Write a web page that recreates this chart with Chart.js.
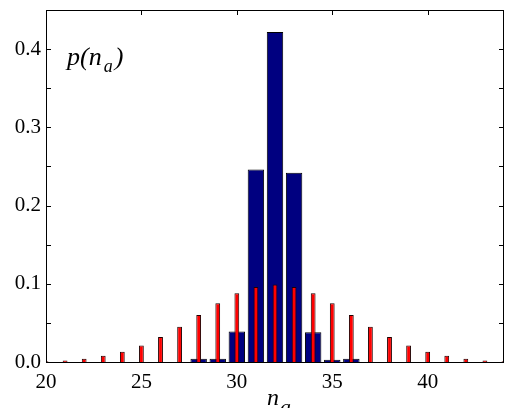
<!DOCTYPE html>
<html>
<head>
<meta charset="utf-8">
<script src="https://cdn.jsdelivr.net/npm/chart.js@4"></script>
<style>
  html, body { margin: 0; padding: 0; background: #fff; }
  #wrap { width: 505px; height: 408px; }
</style>
</head>
<body>
<div id="wrap"><canvas id="chart" width="505" height="408"></canvas></div>
<script>
// occupation numbers n_a
const redN = [20, 21, 22, 23, 24, 25, 26, 27, 28, 29, 30, 31, 32, 33, 34, 35, 36, 37, 38, 39, 40, 41, 42, 43, 44];
const redP = [0.001, 0.002, 0.004, 0.008, 0.013, 0.021, 0.032, 0.045, 0.060, 0.075, 0.088, 0.096, 0.099, 0.096, 0.088, 0.075, 0.060, 0.045, 0.032, 0.021, 0.013, 0.008, 0.004, 0.002, 0.001];

const blueN = [28, 29, 30, 31, 32, 33, 34, 35, 36];
const blueP = [0.004, 0.004, 0.039, 0.246, 0.422, 0.242, 0.038, 0.003, 0.004];

const xTicks = [20, 25, 30, 35, 40];
const yTicks = [0, 0.05, 0.1, 0.15, 0.2, 0.25, 0.3, 0.35, 0.4];

const serif = '"Liberation Serif", "DejaVu Serif", serif';

function toPoints(xs, ys) {
    return xs.map((x, i) => ({ x: x, y: ys[i] }));
}

// frame, inward ticks and the italic labels
const framePlugin = {
    id: 'frame',
    afterDraw(chart) {
        const c = chart.ctx;
        const a = chart.chartArea;
        const xs = chart.scales.x;
        const ys = chart.scales.y;
        c.save();
        c.strokeStyle = '#000';
        c.lineWidth = 1;
        c.strokeRect(Math.round(a.left) + 0.5, Math.round(a.top) + 0.5,
            Math.round(a.right - a.left) - 1, Math.round(a.bottom - a.top));

        c.beginPath();
        yTicks.forEach(v => {
            const py = Math.round(ys.getPixelForValue(v)) + 0.5;
            c.moveTo(a.left, py); c.lineTo(a.left + 5, py);
            c.moveTo(a.right, py); c.lineTo(a.right - 5, py);
        });
        xTicks.forEach(v => {
            const px = Math.round(xs.getPixelForValue(v)) + 0.5;
            c.moveTo(px, a.top); c.lineTo(px, a.top + 5);
        });
        c.stroke();

        c.fillStyle = '#000';
        c.textBaseline = 'alphabetic';
        c.textAlign = 'left';

        // p(n_a)
        let x = a.left + 21;
        const by = a.top + 55;
        c.font = 'italic 26px ' + serif;
        c.fillText('p(n', x, by);
        x += c.measureText('p(n').width + 2;
        c.font = 'italic 18px ' + serif;
        c.fillText('a', x, by + 7);
        x += c.measureText('a').width + 2;
        c.font = 'italic 26px ' + serif;
        c.fillText(')', x, by);

        // axis title n_a
        let tx = 267;
        const ty = a.bottom + 43;
        c.font = 'italic 24px ' + serif;
        c.fillText('n', tx, ty);
        tx += c.measureText('n').width + 1;
        c.font = 'italic 22px ' + serif;
        c.fillText('a', tx, ty + 9);
        c.restore();
    }
};

const ctx = document.getElementById('chart').getContext('2d');

const chart = new Chart(ctx, {
    type: 'bar',
    data: {
        datasets: [
            {
                data: toPoints(redN, redP),
                backgroundColor: '#ff0000',
                borderColor: '#220000',
                borderWidth: 1,
                borderSkipped: 'start',
                barPercentage: 0.25,
                categoryPercentage: 1,
                grouped: false,
                order: 0
            },
            {
                data: toPoints(blueN, blueP),
                backgroundColor: '#000080',
                borderColor: '#000000',
                borderWidth: 1,
                borderSkipped: 'start',
                barPercentage: 0.86,
                categoryPercentage: 1,
                grouped: false,
                order: 1
            }
        ]
    },
    options: {
        responsive: false,
        animation: false,
        layout: { padding: { top: 10, right: 1, left: 0, bottom: 0 } },
        plugins: {
            legend: { display: false },
            tooltip: { enabled: false }
        },
        scales: {
            x: {
                type: 'linear',
                offset: false,
                min: 20,
                max: 44,
                grid: { display: false, drawTicks: false, offset: false },
                border: { display: false },
                afterBuildTicks: scale => { scale.ticks = xTicks.map(v => ({ value: v })); },
                afterFit: scale => { scale.height = 46; scale.paddingLeft = 0; scale.paddingRight = 0; },
                ticks: {
                    padding: 8,
                    color: '#000',
                    font: { family: serif, size: 21 },
                    maxRotation: 0,
                    callback: v => String(v)
                }
            },
            y: {
                min: 0,
                max: 0.45,
                grid: { display: false, drawTicks: false },
                border: { display: false },
                afterBuildTicks: scale => { scale.ticks = yTicks.map(v => ({ value: v })); },
                afterFit: scale => { scale.width = 46; scale.paddingTop = 0; scale.paddingBottom = 0; },
                ticks: {
                    padding: 5,
                    color: '#000',
                    font: { family: serif, size: 21 },
                    callback: v => (Math.round(v * 100) % 10 === 0 ? v.toFixed(1) : '')
                }
            }
        }
    },
    plugins: [framePlugin]
});
</script>
</body>
</html>
